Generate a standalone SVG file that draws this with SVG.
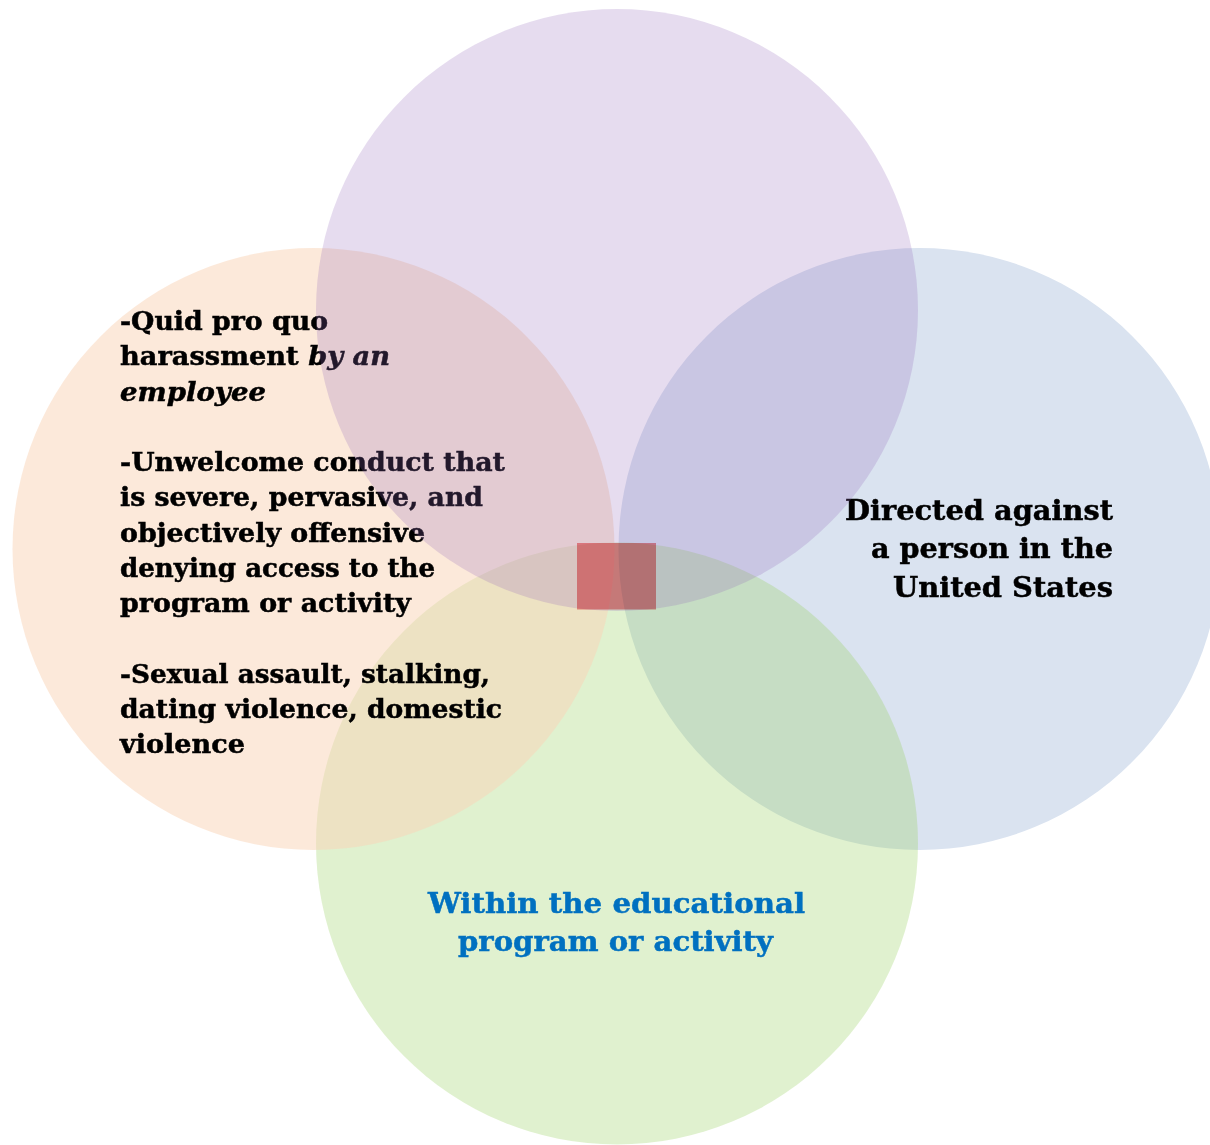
<svg xmlns="http://www.w3.org/2000/svg" width="1210" height="1145" viewBox="0 0 1210 1145">
<style>
.t{font-family:"DejaVu Serif","Liberation Serif",serif;font-weight:bold;fill:#000;stroke:#000;stroke-width:0.5px;paint-order:stroke}
.s{font-size:26px}
.b{font-size:28.5px}
.it{font-style:italic}
.blue{fill:#0070c0;stroke:#0070c0}
</style>
<rect width="1210" height="1145" fill="#ffffff"/>
<g id="node-right">
<circle cx="919.5" cy="549" r="301" fill="#dae3f0"/>
<g class="t b" text-anchor="end">
<text x="1113" y="520" textLength="268" lengthAdjust="spacingAndGlyphs">Directed against</text>
<text x="1113" y="558" textLength="242" lengthAdjust="spacingAndGlyphs">a person in the</text>
<text x="1113" y="596.5" textLength="220" lengthAdjust="spacingAndGlyphs">United States</text>
</g>
</g>
<g id="node-bottom">
<circle cx="617" cy="843.5" r="301" fill="rgb(152,208,95)" fill-opacity="0.3"/>
<g class="t b blue" text-anchor="middle">
<text x="616.5" y="913" textLength="377" lengthAdjust="spacingAndGlyphs">Within the educational</text>
<text x="615.5" y="951" textLength="315" lengthAdjust="spacingAndGlyphs">program or activity</text>
</g>
</g>
<g id="node-left">
<circle cx="313.5" cy="549" r="301" fill="rgb(249,213,184)" fill-opacity="0.52"/>
<g class="t s">
<text x="120" y="330" textLength="208" lengthAdjust="spacingAndGlyphs">-Quid pro quo</text>
<text x="120" y="365.25" textLength="270" lengthAdjust="spacingAndGlyphs">harassment <tspan class="it">by an</tspan></text>
<text x="120" y="400.5" class="it" textLength="146" lengthAdjust="spacingAndGlyphs">employee</text>
<text x="120" y="471" textLength="385" lengthAdjust="spacingAndGlyphs">-Unwelcome conduct that</text>
<text x="120" y="506.25" textLength="363" lengthAdjust="spacingAndGlyphs">is severe, pervasive, and</text>
<text x="120" y="541.5" textLength="305" lengthAdjust="spacingAndGlyphs">objectively offensive</text>
<text x="120" y="576.75" textLength="315" lengthAdjust="spacingAndGlyphs">denying access to the</text>
<text x="120" y="612" textLength="291" lengthAdjust="spacingAndGlyphs">program or activity</text>
<text x="120" y="682.5" textLength="370" lengthAdjust="spacingAndGlyphs">-Sexual assault, stalking,</text>
<text x="120" y="717.75" textLength="382" lengthAdjust="spacingAndGlyphs">dating violence, domestic</text>
<text x="120" y="753" textLength="125" lengthAdjust="spacingAndGlyphs">violence</text>
</g>
</g>
<g id="node-top">
<circle cx="617" cy="310" r="301" fill="rgb(146,103,185)" fill-opacity="0.23"/>
</g>
<g id="node-center">
<rect x="577" y="543" width="79" height="66.5" fill="rgb(244,148,152)" style="mix-blend-mode:multiply"/>
</g>
<g id="connectors"></g>
</svg>
